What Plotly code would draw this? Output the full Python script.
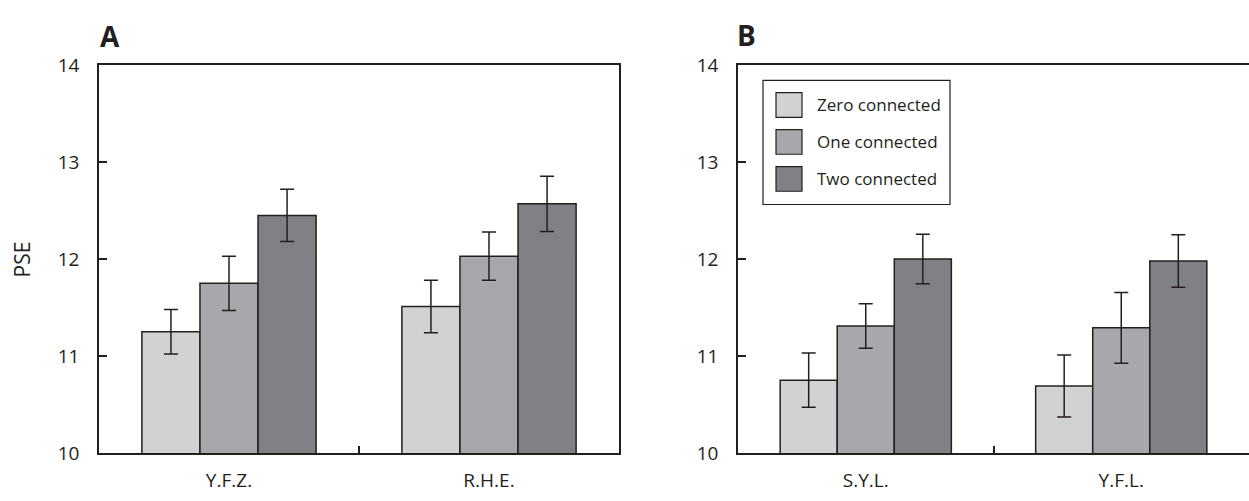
import plotly.graph_objects as go

# ---- data ----
conditions = ["Zero connected", "One connected", "Two connected"]
colors = ["#d1d2d4", "#a7a8ab", "#808184"]

subjects_a = ["Y.F.Z.", "R.H.E."]
pse_a = {
    "Zero connected": [11.25, 11.51],
    "One connected": [11.75, 12.03],
    "Two connected": [12.45, 12.57],
}
err_a = {
    "Zero connected": [0.23, 0.27],
    "One connected": [0.28, 0.25],
    "Two connected": [0.27, 0.285],
}

subjects_b = ["S.Y.L.", "Y.F.L."]
pse_b = {
    "Zero connected": [10.75, 10.69],
    "One connected": [11.31, 11.29],
    "Two connected": [12.00, 11.98],
}
err_b = {
    "Zero connected": [0.28, 0.32],
    "One connected": [0.23, 0.365],
    "Two connected": [0.255, 0.27],
}

y_ticks = [10, 11, 12, 13, 14]

# ---- figure ----
W, H = 1249, 501
INK = "#231f20"
FONT = "Open Sans"

def px_x(x):
    return x / W

def px_y(y):
    return 1 - y / H

fig = go.Figure()
for i, c in enumerate(conditions):
    fig.add_trace(go.Bar(
        x=subjects_a, y=pse_a[c], name=c, offsetgroup=str(i),
        marker=dict(color=colors[i], line=dict(color=INK, width=1.5)),
        error_y=dict(type="data", array=err_a[c], color=INK, thickness=1.5, width=7),
        xaxis="x", yaxis="y", showlegend=False,
    ))
    fig.add_trace(go.Bar(
        x=subjects_b, y=pse_b[c], name=c, offsetgroup=str(i),
        marker=dict(color=colors[i], line=dict(color=INK, width=1.5)),
        error_y=dict(type="data", array=err_b[c], color=INK, thickness=1.5, width=7),
        xaxis="x2", yaxis="y2", showlegend=False,
    ))

ydom = [px_y(464), px_y(55)]
axis_common = dict(showline=True, linecolor=INK, linewidth=1.5, showgrid=False,
                   zeroline=False, ticks="inside", tickcolor=INK, tickwidth=1.5,
                   tickfont=dict(family=FONT, size=19, color=INK))

fig.update_layout(
    width=W, height=H, margin=dict(l=0, r=0, t=0, b=0), autosize=False,
    paper_bgcolor="white", plot_bgcolor="white",
    barmode="group", bargap=0.33, bargroupgap=0,
    xaxis=dict(domain=[px_x(99), px_x(619)], type="category", tickson="boundaries",
               ticklen=7, mirror=True, anchor="y", ticklabelstandoff=10, **axis_common),
    yaxis=dict(domain=ydom, range=[10, 14], tickvals=y_ticks, ticklen=8,
               mirror=True, anchor="x", ticklabelstandoff=14, **axis_common),
    xaxis2=dict(domain=[px_x(738), 1], type="category", tickson="boundaries",
                ticklen=7, mirror=True, anchor="y2", ticklabelstandoff=10, **axis_common),
    yaxis2=dict(domain=ydom, range=[10, 14], tickvals=y_ticks, ticklen=8,
                mirror=False, anchor="x2", ticklabelstandoff=14, **axis_common),
)

annotations = [
    dict(text="<b>A</b>", x=px_x(98), y=px_y(24), xref="paper", yref="paper",
         xanchor="left", yanchor="middle", showarrow=False,
         font=dict(family=FONT, size=28, color=INK)),
    dict(text="<b>B</b>", x=px_x(735), y=px_y(23), xref="paper", yref="paper",
         xanchor="left", yanchor="middle", showarrow=False,
         font=dict(family=FONT, size=28, color=INK)),
    dict(text="PSE", x=px_x(22), y=px_y(260), xref="paper", yref="paper",
         xanchor="center", yanchor="middle", showarrow=False, textangle=-90,
         font=dict(family=FONT, size=21, color=INK)),
]

shapes = [
    dict(type="rect", xref="paper", yref="paper", x0=px_x(763), x1=px_x(950),
         y0=px_y(202), y1=px_y(71), line=dict(color=INK, width=1.2), fillcolor="white"),
]
legend_rows = [97, 136, 175]
for i, c in enumerate(conditions):
    yc = legend_rows[i]
    shapes.append(dict(type="rect", xref="paper", yref="paper",
                       x0=px_x(776), x1=px_x(802), y0=px_y(yc + 13), y1=px_y(yc - 13),
                       line=dict(color=INK, width=1.2), fillcolor=colors[i]))
    annotations.append(dict(text=c, x=px_x(815), y=px_y(yc), xref="paper", yref="paper",
                            xanchor="left", yanchor="middle", showarrow=False,
                            font=dict(family=FONT, size=17, color=INK)))

fig.update_layout(annotations=annotations, shapes=shapes)
fig.write_html("out.html")
